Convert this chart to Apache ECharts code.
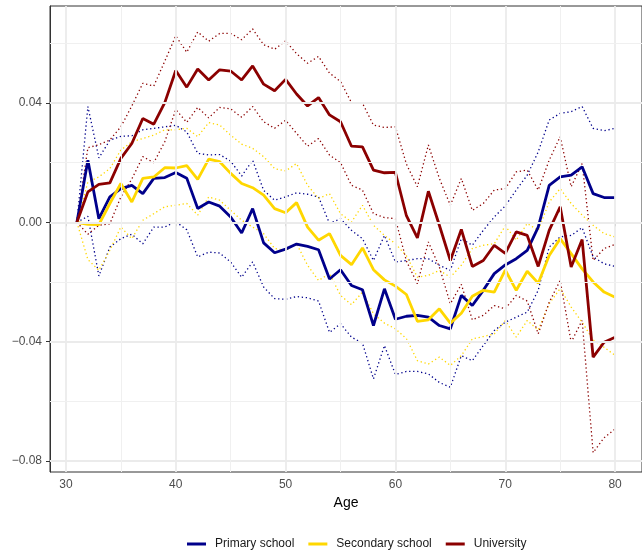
<!DOCTYPE html>
<html>
<head>
<meta charset="utf-8">
<script src="https://cdn.jsdelivr.net/npm/echarts@6/dist/echarts.min.js"></script>
<style>
  html, body { margin: 0; padding: 0; background: #fff; }
  #main { width: 642px; height: 552px; }
</style>
</head>
<body>
<div id="main"></div>
<script>
var ages = [31, 32, 33, 34, 35, 36, 37, 38, 39, 40,
            41, 42, 43, 44, 45, 46, 47, 48, 49, 50,
            51, 52, 53, 54, 55, 56, 57, 58, 59, 60,
            61, 62, 63, 64, 65, 66, 67, 68, 69, 70,
            71, 72, 73, 74, 75, 76, 77, 78, 79, 80];

var primary = [0, 0.0208, 0.0012, 0.0085, 0.0113, 0.0124, 0.0096, 0.0147, 0.015, 0.0167,
  0.0148, 0.0046, 0.0068, 0.0054, 0.0018, -0.0036, 0.0046, -0.0069, -0.0102, -0.009,
  -0.0073, -0.0081, -0.0092, -0.019, -0.0159, -0.0212, -0.0226, -0.0346, -0.0223, -0.0325,
  -0.0315, -0.0312, -0.0318, -0.0346, -0.0357, -0.0245, -0.0279, -0.0228, -0.0172, -0.0143,
  -0.0122, -0.0094, -0.0016, 0.0124, 0.0152, 0.0158, 0.0186, 0.0096, 0.0083, 0.0083];
var primaryHi = [0, 0.0388, 0.0216, 0.0275, 0.0288, 0.029, 0.031, 0.0315, 0.032, 0.0325,
  0.0303, 0.0231, 0.0226, 0.0227, 0.0205, 0.0155, 0.0208, 0.0107, 0.0074, 0.0085,
  0.0099, 0.0094, 0.0085, -0.0004, 0.0012, -0.0027, -0.0055, -0.0128, -0.0044, -0.0133,
  -0.0128, -0.0122, -0.0122, -0.0144, -0.0161, -0.0055, -0.0077, -0.0027, 0.0018, 0.0055,
  0.0108, 0.0158, 0.0236, 0.0343, 0.0365, 0.0371, 0.0388, 0.0315, 0.0307, 0.0315];
var primaryLo = [0, 0.002, -0.018, -0.0083, -0.0055, -0.004, -0.0072, -0.0016, -0.0016, 0.0002,
  -0.0025, -0.0116, -0.01, -0.0103, -0.0133, -0.0184, -0.0133, -0.0217, -0.0256, -0.0258,
  -0.0249, -0.0253, -0.0264, -0.0369, -0.034, -0.0385, -0.0405, -0.0525, -0.0413, -0.051,
  -0.05, -0.05, -0.0508, -0.0537, -0.0553, -0.0447, -0.0464, -0.0413, -0.0363, -0.0335,
  -0.0318, -0.0301, -0.0228, -0.0083, -0.0049, -0.0044, -0.0018, -0.0116, -0.0139, -0.0148];

var secondary = [0, -0.0007, -0.0008, 0.0063, 0.013, 0.0068, 0.0147, 0.0152, 0.0183, 0.0182,
  0.019, 0.0144, 0.0212, 0.0203, 0.0164, 0.013, 0.0116, 0.0091, 0.0046, 0.0032,
  0.0066, -0.0016, -0.006, -0.0038, -0.0111, -0.0142, -0.0086, -0.0159, -0.0193, -0.0214,
  -0.0242, -0.0332, -0.0327, -0.029, -0.0338, -0.0305, -0.0248, -0.0228, -0.0234, -0.016,
  -0.0228, -0.0164, -0.0204, -0.0111, -0.0055, -0.0105, -0.0156, -0.02, -0.0234, -0.0251];
var secondaryHi = [0, 0.0135, 0.0152, 0.018, 0.0242, 0.027, 0.0281, 0.0292, 0.031, 0.031,
  0.0315, 0.0287, 0.0334, 0.0326, 0.0292, 0.0262, 0.0248, 0.022, 0.018, 0.0172,
  0.0197, 0.0124, 0.008, 0.0096, 0.0029, 0.0001, 0.0057, -0.001, -0.0044, -0.0072,
  -0.0112, -0.0184, -0.0178, -0.0161, -0.0184, -0.0144, -0.0088, -0.0077, -0.0072, -0.0012,
  -0.006, -0.0004, -0.0027, 0.0068, 0.0113, 0.0063, 0.0024, -0.001, -0.0038, -0.0049];
var secondaryLo = [0, -0.0125, -0.0161, -0.0094, -0.0016, -0.0055, 0.0007, 0.0029, 0.0052, 0.0057,
  0.0063, 0.0024, 0.0085, 0.0074, 0.004, 0.0007, -0.0016, -0.0038, -0.0088, -0.0094,
  -0.0072, -0.0144, -0.0195, -0.0172, -0.0245, -0.0276, -0.0234, -0.0307, -0.0338, -0.0357,
  -0.039, -0.0464, -0.0475, -0.0452, -0.048, -0.0447, -0.0391, -0.0383, -0.0374, -0.033,
  -0.0385, -0.0329, -0.0361, -0.0273, -0.0222, -0.0284, -0.0335, -0.0394, -0.0419, -0.0446];

var university = [0, 0.0102, 0.0127, 0.0132, 0.0214, 0.0264, 0.0348, 0.0329, 0.0401, 0.0509,
  0.0453, 0.0514, 0.0477, 0.0511, 0.0507, 0.0477, 0.0524, 0.0463, 0.0441, 0.0479,
  0.043, 0.039, 0.0418, 0.036, 0.0337, 0.0255, 0.0253, 0.0175, 0.0166, 0.0167,
  0.0022, -0.0052, 0.0104, -0.001, -0.0128, -0.0024, -0.0148, -0.0128, -0.0077, -0.0104,
  -0.0032, -0.0044, -0.0148, -0.0027, 0.0052, -0.015, -0.0058, -0.0452, -0.0402, -0.0385];
var universityHi = [0, 0.025, 0.026, 0.0276, 0.032, 0.039, 0.0466, 0.0457, 0.054, 0.0625,
  0.057, 0.0638, 0.0607, 0.0633, 0.0633, 0.0612, 0.0648, 0.0595, 0.058, 0.0608,
  0.0565, 0.0533, 0.0556, 0.05, 0.0472, 0.0401, 0.0399, 0.0326, 0.0318, 0.032,
  0.0195, 0.0119, 0.0259, 0.0147, 0.0057, 0.0147, 0.004, 0.0063, 0.0108, 0.0113,
  0.0169, 0.0175, 0.0108, 0.0208, 0.0287, 0.0119, 0.0197, -0.0128, -0.0088, -0.0074];
var universityLo = [0, -0.004, -0.001, -0.0005, 0.0085, 0.0145, 0.022, 0.02, 0.027, 0.0378,
  0.0335, 0.0385, 0.035, 0.0385, 0.038, 0.0352, 0.0388, 0.0337, 0.0315, 0.0342,
  0.0298, 0.0255, 0.0281, 0.0225, 0.02, 0.0124, 0.0108, 0.0029, 0.0016, 0.0012,
  -0.013, -0.0206, -0.0066, -0.015, -0.0273, -0.0208, -0.0327, -0.0312, -0.0279, -0.029,
  -0.0245, -0.0264, -0.0374, -0.0268, -0.0195, -0.0402, -0.0329, -0.0772, -0.0722, -0.0693];

var groups = ['Primary school', 'Secondary school', 'University'];
var xTicks = [30, 40, 50, 60, 70, 80];
var xMinor = [35, 45, 55, 65, 75];
var yTicks = [-0.08, -0.04, 0, 0.04];
var yMinor = [-0.06, -0.02, 0.02, 0.06];

var colors = ['#00008B', '#FFD700', '#8B0000'];
var mains = [primary, secondary, university];
var his = [primaryHi, secondaryHi, universityHi];
var los = [primaryLo, secondaryLo, universityLo];

function pairs(vals) {
  return ages.map(function (a, i) { return [a, vals[i]]; });
}
function fmtY(v) {
  var s = Math.abs(v).toFixed(2);
  return v < -1e-9 ? '\u2212' + s : s;
}

var myChart = echarts.init(document.getElementById('main'));

var series = [];
// panel grid, ggplot style
series.push({
  type: 'line', data: [], silent: true, z: 1,
  markLine: {
    silent: true, symbol: ['none', 'none'], label: {show: false}, animation: false,
    lineStyle: {color: '#ebebeb', width: 1.8, type: 'solid'},
    data: xTicks.map(function (v) { return {xAxis: v}; })
      .concat(yTicks.map(function (v) { return {yAxis: v}; }))
  }
});
series.push({
  type: 'line', data: [], silent: true, z: 1,
  markLine: {
    silent: true, symbol: ['none', 'none'], label: {show: false}, animation: false,
    lineStyle: {color: '#f0f0f0', width: 1, type: 'solid'},
    data: xMinor.map(function (v) { return {xAxis: v}; })
      .concat(yMinor.map(function (v) { return {yAxis: v}; }))
  }
});

groups.forEach(function (g, k) {
  [his[k], los[k]].forEach(function (arr, j) {
    series.push({
      name: g + (j ? ' lo' : ' hi'),
      type: 'line',
      data: pairs(arr),
      showSymbol: false,
      silent: true,
      z: 2,
      lineStyle: {color: colors[k], width: 1.3, type: [1.3, 2.7], cap: 'butt'}
    });
  });
});
groups.forEach(function (g, k) {
  series.push({
    name: g,
    type: 'line',
    data: pairs(mains[k]),
    showSymbol: false,
    z: 3,
    itemStyle: {color: colors[k]},
    lineStyle: {color: colors[k], width: 2.8}
  });
});

var option = {
  backgroundColor: '#fff',
  animation: false,
  grid: {
    left: 50, right: -13, top: 6, bottom: 80,
    show: true, borderColor: '#333', borderWidth: 1, backgroundColor: 'transparent'
  },
  legend: {
    data: groups,
    left: 182, top: 533,
    icon: 'rect', itemWidth: 19, itemHeight: 3, itemGap: 14,
    textStyle: {fontFamily: 'Liberation Sans, Arial', fontSize: 12, color: '#1a1a1a', padding: [0, 0, 0, 4]}
  },
  xAxis: {
    type: 'value', min: 28.55, max: 82.45,
    name: 'Age', nameLocation: 'middle', nameGap: 22,
    nameTextStyle: {fontFamily: 'Liberation Sans, Arial', fontSize: 14, color: '#000'},
    splitLine: {show: false},
    axisLine: {show: true, lineStyle: {color: '#333'}},
    axisTick: {show: true, length: 4, customValues: xTicks, lineStyle: {color: '#333'}},
    axisLabel: {customValues: xTicks, margin: 7, fontFamily: 'Liberation Sans, Arial', fontSize: 12, color: '#4d4d4d'}
  },
  yAxis: {
    type: 'value', min: -0.0837, max: 0.0725,
    splitLine: {show: false},
    axisLine: {show: true, lineStyle: {color: '#333'}},
    axisTick: {show: true, length: 4, customValues: yTicks, lineStyle: {color: '#333'}},
    axisLabel: {
      customValues: yTicks, margin: 8, fontFamily: 'Liberation Sans, Arial', fontSize: 12, color: '#4d4d4d',
      formatter: fmtY
    }
  },
  series: series
};
myChart.setOption(option);
</script>
</body>
</html>
